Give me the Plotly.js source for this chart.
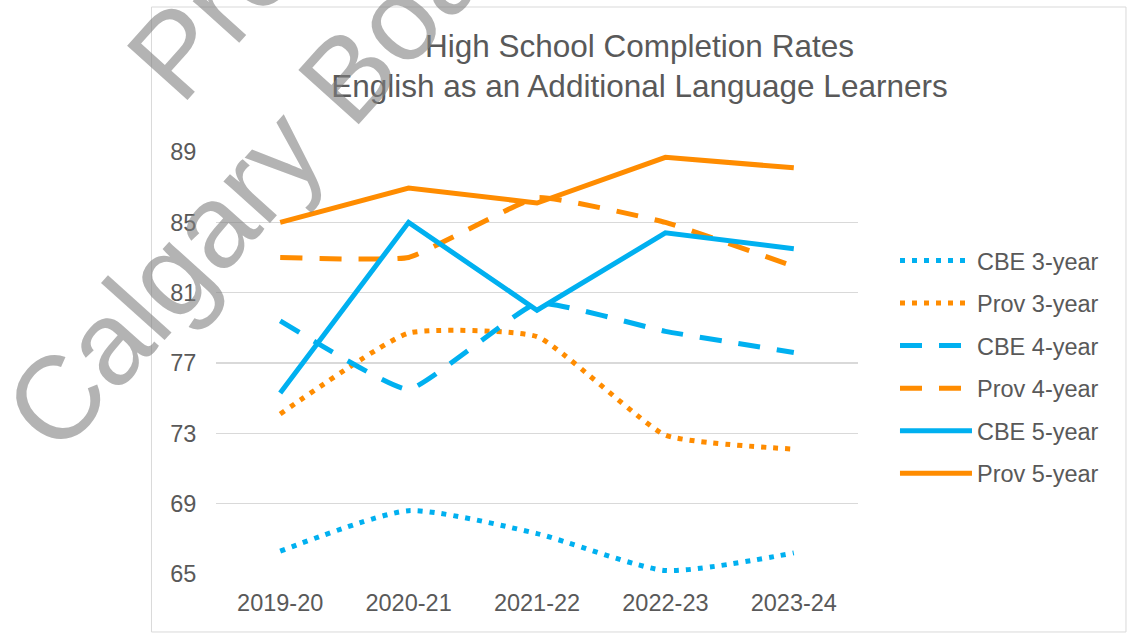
<!DOCTYPE html>
<html>
<head>
<meta charset="utf-8">
<script src="https://cdn.plot.ly/plotly-3.0.1.min.js"></script>
<style>html,body{margin:0;padding:0;background:#fff;}#chart{width:1127px;height:635px;}</style>
</head>
<body>
<div id="chart"></div>
<script>
const categories = ["2019-20", "2020-21", "2021-22", "2022-23", "2023-24"];
const cbe3 = [66.3, 68.6, 67.3, 65.2, 66.2];
const prov3 = [74.1, 78.7, 78.5, 72.9, 72.1];
const cbe4 = [79.4, 75.5, 80.4, 78.8, 77.6];
const prov4 = [83.0, 83.0, 86.4, 85.0, 82.5];
const cbe5 = [75.3, 85.0, 80.0, 84.4, 83.5];
const prov5 = [85.0, 86.95, 86.1, 88.7, 88.1];
const yTicks = [65, 69, 73, 77, 81, 85, 89];

const BLUE = "#00B0F0";
const ORANGE = "#FF8C00";
const DOT = "5px,7px";
const DASH = "22px,17px";

function mk(name, y, color, dash, shape, smooth, grp) {
  return {
    type: "scatter", mode: "lines", name: name, x: categories, y: y,
    legendgroup: grp,
    line: {color: color, width: 5, dash: dash, shape: shape, smoothing: smooth},
    hoverinfo: "x+y+name"
  };
}

const traces = [
  mk("CBE 3-year", cbe3, BLUE, DOT, "spline", 0.6, "g1"),
  mk("Prov 3-year", prov3, ORANGE, DOT, "spline", 0.45, "g2"),
  mk("CBE 4-year", cbe4, BLUE, DASH, "spline", 0.35, "g3"),
  mk("Prov 4-year", prov4, ORANGE, DASH, "spline", 0.35, "g4"),
  mk("CBE 5-year", cbe5, BLUE, "solid", "linear", 0, "g5"),
  mk("Prov 5-year", prov5, ORANGE, "solid", "linear", 0, "g6")
];

const FONT = "Liberation Sans, Arial, sans-serif";
const GREY = "#595959";
const WM = "rgba(128,128,128,0.6)";

const layout = {
  width: 1127, height: 635,
  margin: {l: 216, r: 269, t: 152, b: 61, pad: 0},
  paper_bgcolor: "#ffffff", plot_bgcolor: "#ffffff",
  font: {family: FONT, color: GREY, size: 23.5},
  title: {
    text: "High School Completion Rates<br>English as an Additional Language Learners",
    font: {family: FONT, size: 31.5, color: GREY},
    xref: "container", x: 0.5674, xanchor: "center",
    yref: "container", y: 0.911, yanchor: "top"
  },
  xaxis: {
    type: "category", range: [-0.5, 4.5], showgrid: false, zeroline: false, showline: false,
    ticks: "outside", ticklen: 8, tickcolor: "rgba(0,0,0,0)",
    tickfont: {family: FONT, size: 23.5, color: GREY},
    fixedrange: true
  },
  yaxis: {
    range: [65, 89], tickmode: "array", tickvals: yTicks, ticktext: yTicks.map(String),
    showgrid: true, gridcolor: "#D9D9D9", gridwidth: 1.5, zeroline: false, showline: false,
    ticks: "outside", ticklen: 14, tickcolor: "rgba(0,0,0,0)",
    tickfont: {family: FONT, size: 23.5, color: GREY},
    fixedrange: true
  },
  showlegend: true,
  legend: {
    x: 1.0576, xanchor: "left", y: 0.49, yanchor: "middle",
    font: {family: FONT, size: 23.5, color: GREY},
    itemwidth: 72, tracegroupgap: 9, bgcolor: "rgba(0,0,0,0)", borderwidth: 0
  },
  shapes: [{
    type: "rect", xref: "paper", yref: "paper",
    x0: -0.1005, x1: 1.4174, y0: -0.1374, y1: 1.3436,
    line: {color: "#D9D9D9", width: 1}, fillcolor: "rgba(0,0,0,0)", layer: "below"
  }],
  annotations: [
    {text: "Calgary Board of Education", xref: "paper", yref: "paper", x: 0.4595, y: 1.611,
     xanchor: "center", yanchor: "middle", showarrow: false, textangle: -48,
     font: {family: FONT, size: 118, color: WM}},
    {text: "Preliminary", xref: "paper", yref: "paper", x: 0.205, y: 1.69,
     xanchor: "center", yanchor: "middle", showarrow: false, textangle: -48,
     font: {family: FONT, size: 118, color: WM}}
  ]
};

Plotly.newPlot("chart", traces, layout, {displayModeBar: false, staticPlot: true});
</script>
</body>
</html>
